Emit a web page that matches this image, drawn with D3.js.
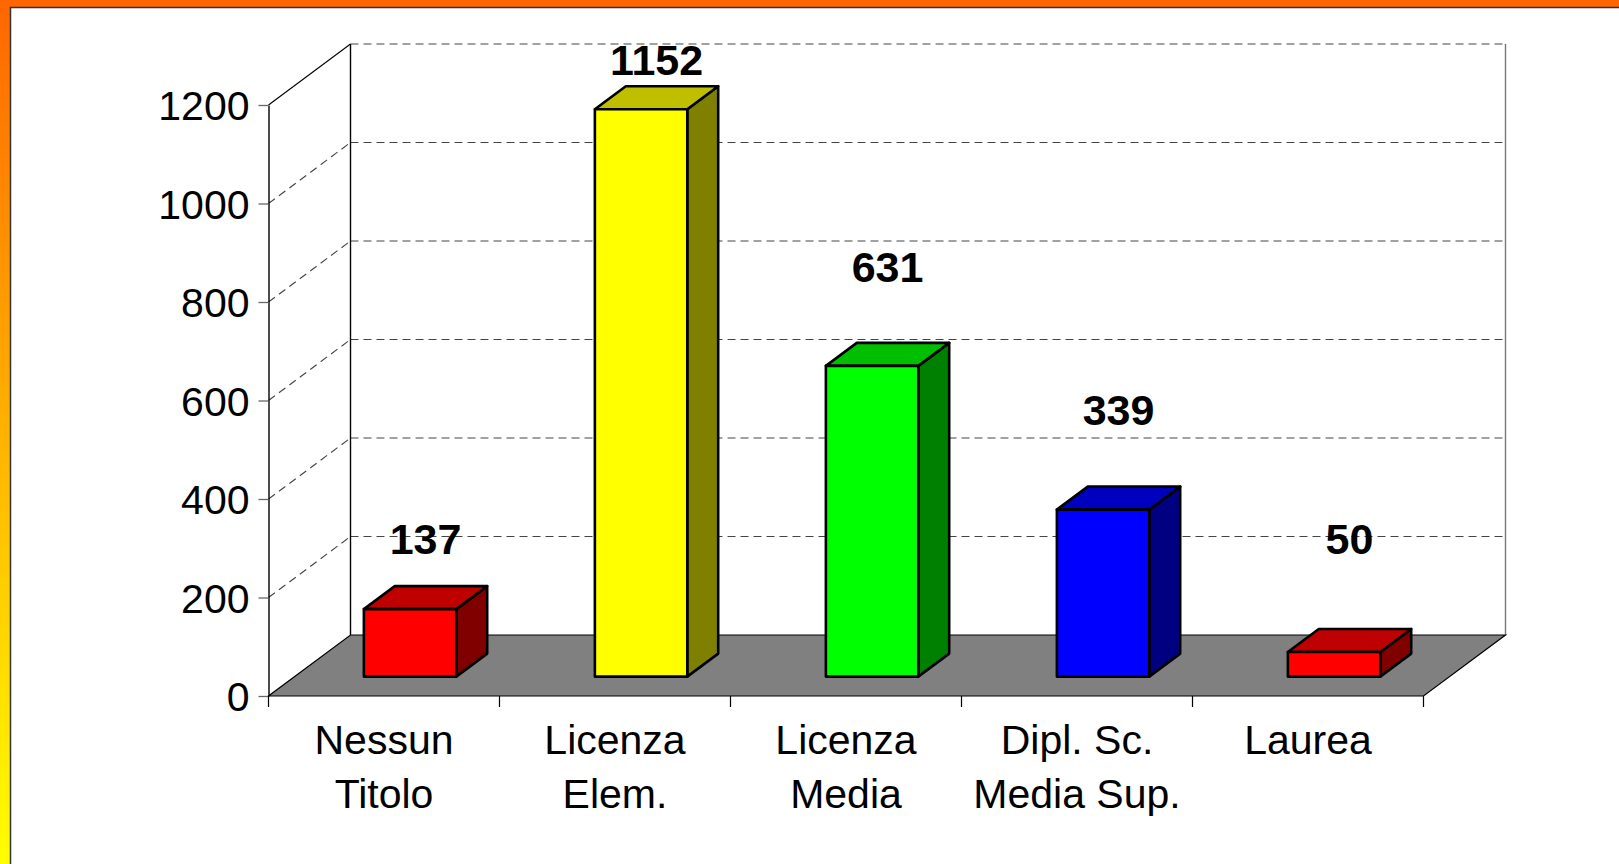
<!DOCTYPE html>
<html>
<head>
<meta charset="utf-8">
<script src="https://cdn.jsdelivr.net/npm/d3@7"></script>
<style>
  html, body { margin: 0; padding: 0; overflow: hidden; }
  text { font-family: "Liberation Sans", Arial, sans-serif; }
</style>
</head>
<body>
<script>
const width = 1619
const height = 864

// data
const categories = [['Nessun', 'Titolo'], ['Licenza', 'Elem.'], ['Licenza', 'Media'], ['Dipl. Sc.', 'Media Sup.'], ['Laurea']]
const values = [137, 1152, 631, 339, 50]
const barColors = ['#FF0000', '#FFFF00', '#00FF00', '#0000FF', '#FF0000']
const yTicks = [0, 200, 400, 600, 800, 1000, 1200]

// 3d box: how far the back wall sits behind the front plane
const depth = { dx: 82, dy: -61 }
const barFront = 0.318 // fraction of depth where a bar's front face stands
const barBack = 0.695

const svg = d3.select('body').append('svg')
  .attr('width', width)
  .attr('height', height)

// slide background, orange on top fading to yellow
const grad = svg.append('defs').append('linearGradient')
  .attr('id', 'bg').attr('x1', 0).attr('y1', 0).attr('x2', 0).attr('y2', 1)
grad.append('stop').attr('offset', '0%').attr('stop-color', '#FF6600')
grad.append('stop').attr('offset', '100%').attr('stop-color', '#FFFF00')

svg.append('rect').attr('width', width).attr('height', height).attr('fill', 'url(#bg)')
svg.append('rect')
  .attr('x', 10.5).attr('y', 7.5)
  .attr('width', width).attr('height', height)
  .attr('fill', '#fff')
  .attr('stroke', '#333').attr('stroke-width', 1.5)

const x = d3.scaleBand()
  .domain(d3.range(values.length))
  .range([268.5, 1423.5])
  .paddingInner(0.6)
  .paddingOuter(0.3)

const y = d3.scaleLinear()
  .domain([0, 1200])
  .range([696, 105])

const x0 = x.range()[0]
const x1 = x.range()[1]
const yBack = v => y(v) + depth.dy
const xBack = xx => xx + depth.dx

const g = svg.append('g')

// back wall
g.append('rect')
  .attr('x', xBack(x0)).attr('y', yBack(1200))
  .attr('width', x1 - x0).attr('height', y(0) - y(1200))
  .attr('fill', '#fff')

// gridlines on back wall and side wall
yTicks.filter(t => t > 0).forEach(t => {
  g.append('line')
    .attr('x1', xBack(x0)).attr('x2', xBack(x1))
    .attr('y1', yBack(t)).attr('y2', yBack(t))
    .attr('stroke', '#444').attr('stroke-width', 1.2).attr('stroke-dasharray', '8,5')
  g.append('line')
    .attr('x1', x0).attr('y1', y(t))
    .attr('x2', xBack(x0)).attr('y2', yBack(t))
    .attr('stroke', t === 1200 ? '#000' : '#444')
    .attr('stroke-width', 1.1)
    .attr('stroke-dasharray', t === 1200 ? null : '8,5')
})

// wall edges
g.append('line')
  .attr('x1', xBack(x0)).attr('x2', xBack(x0))
  .attr('y1', yBack(1200)).attr('y2', yBack(0))
  .attr('stroke', '#000').attr('stroke-width', 1.4)
g.append('line')
  .attr('x1', xBack(x1)).attr('x2', xBack(x1))
  .attr('y1', yBack(1200)).attr('y2', yBack(0))
  .attr('stroke', '#777').attr('stroke-width', 1.4)

// floor
g.append('path')
  .attr('d', d3.line()([[x0, y(0)], [x1, y(0)], [xBack(x1), yBack(0)], [xBack(x0), yBack(0)]]) + 'Z')
  .attr('fill', '#808080')
  .attr('stroke', '#000').attr('stroke-width', 1.2)

// y axis on the front left edge
const yAxis = g.append('g')
  .attr('transform', `translate(${x0},0)`)
  .call(d3.axisLeft(y).tickValues(yTicks).tickFormat(d3.format('d'))
    .tickSize(10).tickSizeOuter(0).tickPadding(9))
yAxis.select('.domain').attr('stroke', '#000').attr('stroke-width', 1.4)
yAxis.selectAll('.tick line').attr('stroke', '#666').attr('stroke-width', 1.3)
yAxis.selectAll('.tick text')
  .attr('font-size', 41)
  .attr('fill', '#000')
  .attr('font-family', '"Liberation Sans", Arial, sans-serif')
  .attr('dy', '0.36em')

// category boundary ticks
d3.range(values.length + 1).forEach(i => {
  const tx = x0 + i * x.step()
  g.append('line')
    .attr('x1', tx).attr('x2', tx)
    .attr('y1', y(0)).attr('y2', y(0) + 11)
    .attr('stroke', '#000').attr('stroke-width', 1.2)
})

// category labels
const catText = g.selectAll('.cat')
  .data(categories)
  .enter().append('text')
  .attr('class', 'cat')
  .attr('text-anchor', 'middle')
  .attr('font-size', 41)
  .attr('fill', '#000')
catText.selectAll('tspan')
  .data((d, i) => d.map(line => ({ line, i })))
  .enter().append('tspan')
  .attr('x', d => x(d.i) + x.bandwidth() / 2)
  .attr('y', (d, k) => 754 + k * 54)
  .text(d => d.line)

// bars as boxes
const fx = barFront * depth.dx
const fy = barFront * depth.dy
const ddx = (barBack - barFront) * depth.dx
const ddy = (barBack - barFront) * depth.dy
const line = d3.line()

const bars = g.selectAll('.bar')
  .data(values)
  .enter().append('g')
  .attr('class', 'bar')
  .attr('stroke', '#000')
  .attr('stroke-width', 2.6)
  .attr('stroke-linejoin', 'round')

bars.each(function (v, i) {
  const b = d3.select(this)
  const c = d3.color(barColors[i])
  const xl = x(i) + fx
  const xr = xl + x.bandwidth()
  const yt = y(v) + fy
  const yb = y(0) + fy
  b.append('path')
    .attr('d', line([[xr, yt], [xr + ddx, yt + ddy], [xr + ddx, yb + ddy], [xr, yb]]) + 'Z')
    .attr('fill', d3.rgb(c.r * 0.5, c.g * 0.5, c.b * 0.5))
  b.append('path')
    .attr('d', line([[xl, yt], [xr, yt], [xr + ddx, yt + ddy], [xl + ddx, yt + ddy]]) + 'Z')
    .attr('fill', d3.rgb(c.r * 0.75, c.g * 0.75, c.b * 0.75))
  b.append('rect')
    .attr('x', xl).attr('y', yt)
    .attr('width', x.bandwidth()).attr('height', yb - yt)
    .attr('fill', c)
})

// value labels, placed the way the original chart shows them
const labelY = d3.scalePow().exponent(0.65).domain([0, 1200]).range([714, 57.6])
const labelFloor = yBack(200) + 17

g.selectAll('.val')
  .data(values)
  .enter().append('text')
  .attr('class', 'val')
  .attr('text-anchor', 'middle')
  .attr('font-size', 43)
  .attr('font-weight', 'bold')
  .attr('fill', '#000')
  .attr('x', (d, i) => x(i) + x.bandwidth() / 2 + fx + ddx / 2)
  .attr('y', d => Math.min(labelY(d), labelFloor))
  .text(d => d)
</script>
</body>
</html>
